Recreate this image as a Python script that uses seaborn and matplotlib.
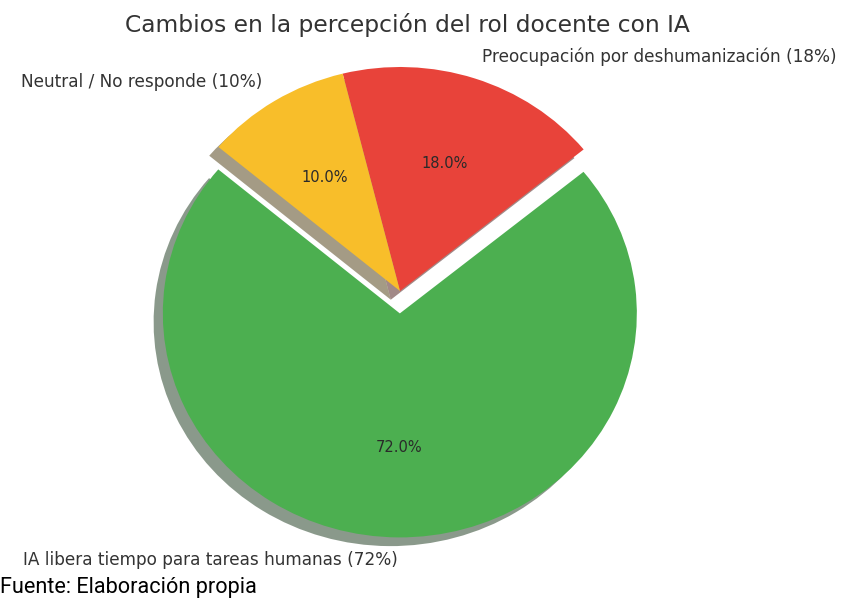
import matplotlib
matplotlib.use("Agg")
import matplotlib.pyplot as plt
import seaborn as sns

# Data
categorias = ["IA libera tiempo para tareas humanas (72%)",
              "Preocupación por deshumanización (18%)",
              "Neutral / No responde (10%)"]
valores = [72, 18, 10]
colores = ["#4CAF50", "#E8433A", "#F8BE2A"]
titulo = "Cambios en la percepción del rol docente con IA"
fuente = "Fuente: Elaboración propia"

sns.set_theme(style="white")
plt.rcParams['font.family'] = ['DejaVu Sans']

W, H = 843, 598
fig = plt.figure(figsize=(W / 100, H / 100), dpi=100)
ax = fig.add_axes([0, 0, 1, 1])

wedges, texts, autotexts = ax.pie(
    valores,
    labels=categorias,
    colors=sns.color_palette(colores),
    explode=(0.1, 0, 0),
    startangle=140,
    autopct='%1.1f%%',
    shadow={'ox': -0.028, 'oy': -0.028},
    labeldistance=1.1,
    pctdistance=0.6,
    wedgeprops={'linewidth': 0},
    textprops={'fontsize': 12.2, 'color': '#333333'},
)
for t in autotexts:
    t.set_fontsize(10.5)
    t.set_color('#2a2a2a')

# pixel mapping: center (400, 291), rx=237 px, ry=224 px
cx, cy, rx, ry = 400, 291, 237, 224
ax.set_aspect('auto')
ax.set_xlim(-cx / rx, (W - cx) / rx)
ax.set_ylim((cy - H) / ry, cy / ry)
ax.axis('off')

fig.text(407 / W, 1 - 25 / H, titulo, ha='center', va='center',
         fontsize=16.8, color='#333333')
fig.text(0 / W, 1 - 588 / H, fuente, ha='left', va='center',
         fontsize=15.6, color='black', family=['Roboto', 'DejaVu Sans'])

fig.savefig("out.png", dpi=100)
